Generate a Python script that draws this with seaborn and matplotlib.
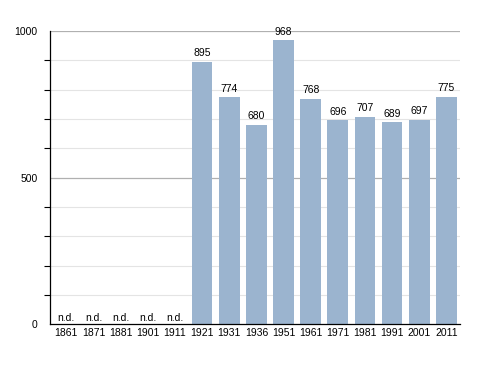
import numpy as np
import pandas as pd
import matplotlib
matplotlib.use("Agg")
import matplotlib.pyplot as plt
import seaborn as sns

years = ["1861", "1871", "1881", "1901", "1911", "1921", "1931", "1936",
         "1951", "1961", "1971", "1981", "1991", "2001", "2011"]
population = [np.nan, np.nan, np.nan, np.nan, np.nan, 895, 774, 680,
              968, 768, 696, 707, 689, 697, 775]

df = pd.DataFrame({"year": years, "pop": population})

sns.set_style("white")
plt.rcParams["font.family"] = ["Liberation Sans", "DejaVu Sans"]
plt.rcParams["text.color"] = "black"
plt.rcParams["xtick.color"] = "black"
plt.rcParams["ytick.color"] = "black"

fig = plt.figure(figsize=(4.88, 3.73), dpi=100)
ax = fig.add_axes([0.1025, 0.131, 0.840, 0.786])

sns.barplot(data=df, x="year", y="pop", order=years, color="#9bb4cf",
            saturation=1, width=0.76, linewidth=0, ax=ax)
for p in ax.patches:
    p.set_zorder(3)

# grid lines behind the bars
for y in range(100, 1001, 100):
    if y % 500 == 0:
        ax.axhline(y, color="#b0b0b0", lw=0.9, zorder=1)
    else:
        ax.axhline(y, color="#e4e4e4", lw=0.8, zorder=1)

for i, v in enumerate(population):
    if np.isnan(v):
        ax.text(i, 4, "n.d.", ha="center", va="bottom", fontsize=7.5, color="black")
    else:
        ax.text(i, v + 12, f"{int(v)}", ha="center", va="bottom", fontsize=7.5,
                color="black", zorder=4)

ax.set_ylim(0, 1000)
ax.set_xlim(-0.6, 14.5)
ax.set_yticks([0, 500, 1000])
ax.set_yticklabels(["0", "500", "1000"], fontsize=7.5)
ax.set_yticks(range(100, 1000, 100), minor=True)
ax.tick_params(axis="y", which="major", length=4, width=0.8, pad=5, color="black")
ax.tick_params(axis="y", which="minor", length=4, width=0.8, color="black", left=True)
ax.tick_params(axis="x", length=0, labelsize=7.5, pad=3)
ax.set_xlabel("")
ax.set_ylabel("")
for s in ["top", "right"]:
    ax.spines[s].set_visible(False)
ax.spines["left"].set_color("black")
ax.spines["bottom"].set_color("black")
ax.spines["left"].set_linewidth(0.9)
ax.spines["bottom"].set_linewidth(0.9)
ax.spines["left"].set_zorder(5)
ax.spines["bottom"].set_zorder(5)

fig.savefig("out.png", dpi=100)
